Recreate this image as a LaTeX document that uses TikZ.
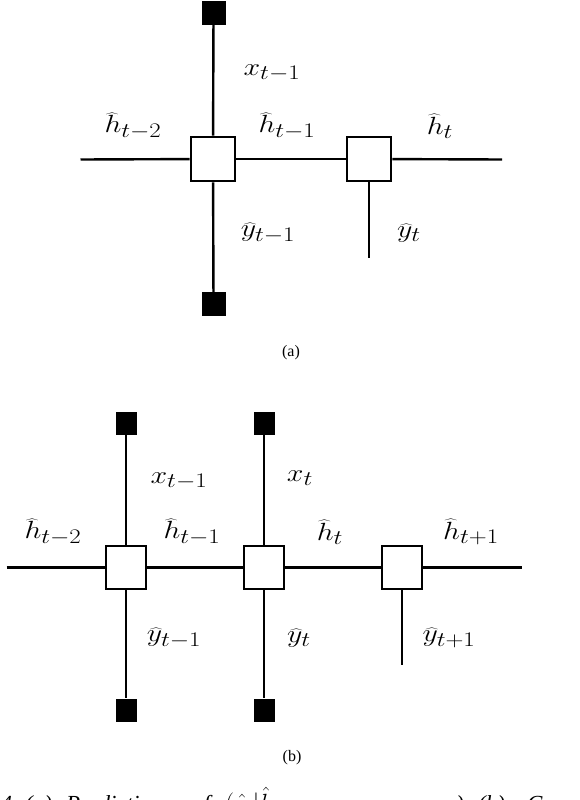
\documentclass[tikz,border=0pt]{standalone}
\usepackage{fontspec}
\setmainfont{Liberation Serif}
\begin{document}
\begin{tikzpicture}[x=1pt,y=-1pt,
  line/.style={line width=2.4pt},
  cell/.style={draw, line width=2.8pt, fill=white, minimum width=44pt, minimum height=44pt, inner sep=0pt},
  cellb/.style={cell, minimum width=40pt, minimum height=43pt},
  term/.style={fill=black, minimum width=24pt, minimum height=24pt, inner sep=0pt},
  termb/.style={term, minimum width=21pt, minimum height=23pt},
  lab/.style={font=\Huge, inner sep=0pt, xscale=1.2},
  sublab/.style={font=\fontsize{16}{19}\selectfont, inner sep=0pt},
  capt/.style={font=\fontsize{23}{27}\selectfont\itshape, inner sep=0pt, anchor=base west}]
\useasboundingbox (0,0) rectangle (580,800);
\clip (0,0) rectangle (580,800);

% ---------- (a) ----------
\node[cell] (a1) at (213,159) {};
\node[cell] (a2) at (369,159) {};
\node[term] (aT) at (213.5,13) {};
\node[term] (aB) at (213.5,304) {};
\coordinate (aL) at (80.5,159.5);
\coordinate (aR) at (502,159.5);
\coordinate (aS) at (369,258);
\draw[line] (aL) -- (a1);
\draw[line] (a1) -- (a2);
\draw[line] (a2) -- (aR);
\draw[line] (aT) -- (a1);
\draw[line] (a1) -- (aB);
\draw[line] (a2) -- (aS);

\node[lab] (lax) at (272,73) {$x_{t-1}$};
\node[lab] (lah2) at (133,126) {$\widehat{h}_{t-2}$};
\node[lab] (lah1) at (287,126) {$\widehat{h}_{t-1}$};
\node[lab] (laht) at (440,126) {$\widehat{h}_{t}$};
\node[lab] (lay1) at (268,233) {$\widehat{y}_{t-1}$};
\node[lab] (layt) at (409,233) {$\widehat{y}_{t}$};
\node[sublab] (capa) at (291,353) {(a)};

% ---------- (b) ----------
\node[cellb] (b1) at (126,567.5) {};
\node[cellb] (b2) at (264,567.5) {};
\node[cellb] (b3) at (402,567.5) {};
\node[termb] (bT1) at (126,423.5) {};
\node[termb] (bT2) at (264,423.5) {};
\node[termb] (bB1) at (126,710) {};
\node[termb] (bB2) at (264,710) {};
\coordinate (bL) at (6.5,567.5);
\coordinate (bR) at (522,567.5);
\coordinate (bS) at (402,665);
\draw[line] (bL) -- (b1);
\draw[line] (b1) -- (b2);
\draw[line] (b2) -- (b3);
\draw[line] (b3) -- (bR);
\draw[line] (bT1) -- (b1);
\draw[line] (b1) -- (bB1);
\draw[line] (bT2) -- (b2);
\draw[line] (b2) -- (bB2);
\draw[line] (b3) -- (bS);

\node[lab] (lbx1) at (179,481) {$x_{t-1}$};
\node[lab] (lbxt) at (300,478) {$x_{t}$};
\node[lab] (lbh2) at (53,532) {$\widehat{h}_{t-2}$};
\node[lab] (lbh1) at (192,532) {$\widehat{h}_{t-1}$};
\node[lab] (lbht) at (330,532) {$\widehat{h}_{t}$};
\node[lab] (lbhp) at (471,532) {$\widehat{h}_{t+1}$};
\node[lab] (lby1) at (174,638) {$\widehat{y}_{t-1}$};
\node[lab] (lbyt) at (299,638) {$\widehat{y}_{t}$};
\node[lab] (lbyp) at (449,638) {$\widehat{y}_{t+1}$};
\node[sublab] (capb) at (292,758) {(b)};

% ---------- caption (cut off at the bottom) ----------
\node[capt] (c0) at (0.5,811) {4:};
\node[capt] (c1) at (25,811) {(a)};
\node[capt] (c2) at (66,811) {Prediction};
\node[capt] (c3) at (192,811) {of};
\node[capt] (c4) at (213,811) {$p(\hat{y}_t|\hat{h}_{t-1}, x_{t-1}, \ldots, x_1$};
\node[capt] (c5) at (456,811) {)};
\node[capt] (c6) at (478,811) {(b)};
\node[capt] (c7) at (527,811) {Computation};
\end{tikzpicture}
\end{document}
